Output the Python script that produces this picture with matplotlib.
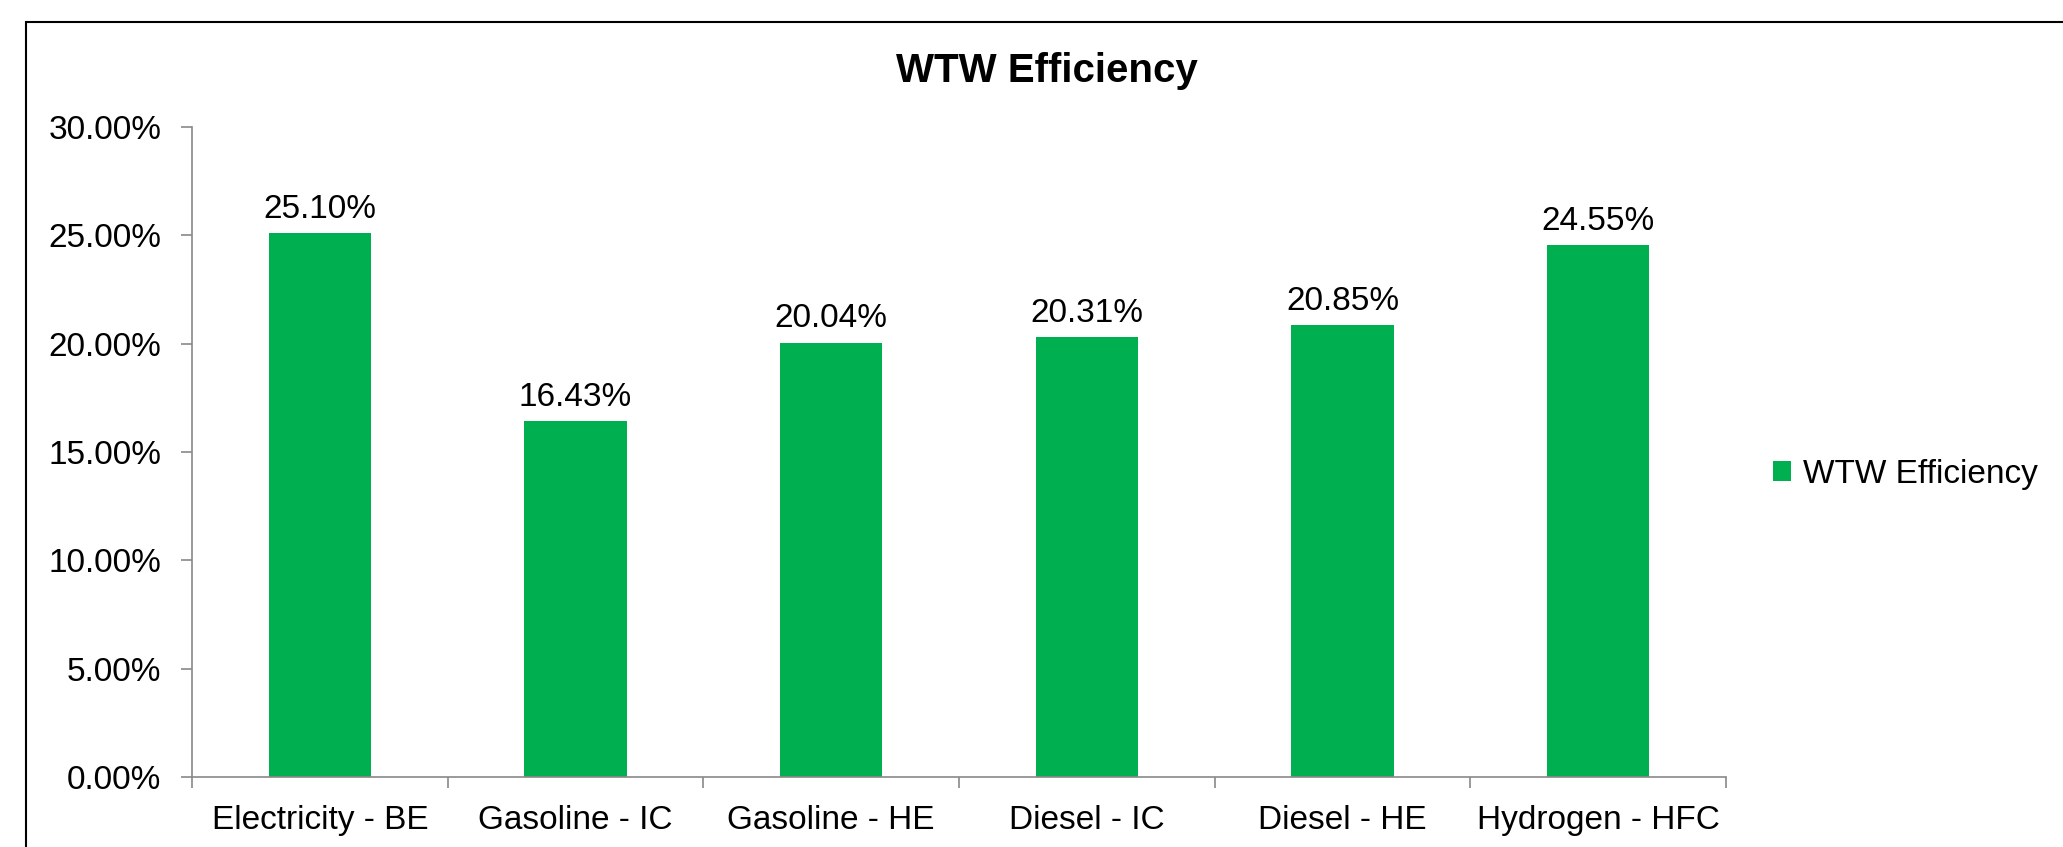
import matplotlib.pyplot as plt
from matplotlib.patches import Rectangle
from matplotlib.ticker import FuncFormatter, FixedLocator

plt.rcParams['font.family'] = ['Liberation Sans', 'DejaVu Sans']

categories = ['Electricity - BE', 'Gasoline - IC', 'Gasoline - HE',
              'Diesel - IC', 'Diesel - HE', 'Hydrogen - HFC']
efficiency = [25.10, 16.43, 20.04, 20.31, 20.85, 24.55]
series_name = 'WTW Efficiency'

GREEN = '#00B050'
GREY = '#898989'
FS = 24

W, H = 2063, 847
fig = plt.figure(figsize=(W / 100, H / 100), dpi=100)

# outer chart border (cut off at right and bottom like the reference)
fig.patches.append(Rectangle((26 / W, -0.1), 1.2, 1 - 22 / H + 0.1,
                             transform=fig.transFigure, fill=False,
                             edgecolor='black', linewidth=1.5))

ax = fig.add_axes([192 / W, 1 - 777 / H, (1726 - 192) / W, (777 - 127) / H])
x = list(range(len(categories)))
bars = ax.bar(x, efficiency, width=0.4, color=GREEN, label=series_name, zorder=2)

for xi, v in zip(x, efficiency):
    ax.annotate(f'{v:.2f}%', (xi, v), xytext=(0, 6), textcoords='offset points',
                ha='center', va='bottom', fontsize=FS)

ax.set_xlim(-0.5, len(categories) - 0.5)
ax.set_ylim(0, 30)
ax.set_yticks([0, 5, 10, 15, 20, 25, 30])
ax.yaxis.set_major_formatter(FuncFormatter(lambda v, p: f'{v:.2f}%'))
ax.set_xticks(x)
ax.set_xticklabels(categories)
ax.xaxis.set_minor_locator(FixedLocator([i - 0.5 for i in range(len(categories) + 1)]))
ax.tick_params(axis='x', which='major', length=0, pad=20, labelsize=FS)
ax.tick_params(axis='x', which='minor', length=8, color=GREY, width=1.2, direction='out')
ax.tick_params(axis='y', length=8, color=GREY, width=1.2, pad=14, labelsize=FS)

for s in ['top', 'right']:
    ax.spines[s].set_visible(False)
for s in ['left', 'bottom']:
    ax.spines[s].set_color(GREY)
    ax.spines[s].set_linewidth(1.2)

fig.text(1047 / W, 1 - 67 / H, 'WTW Efficiency', ha='center', va='center_baseline',
         fontsize=29, fontweight='bold')

fig.legend(handles=[bars], labels=[series_name], loc='center left',
           bbox_to_anchor=(1743 / W, 1 - 474 / H), frameon=False, fontsize=FS,
           handlelength=0.55, handleheight=0.55, handletextpad=0.35)

fig.savefig('out.png', dpi=100)
